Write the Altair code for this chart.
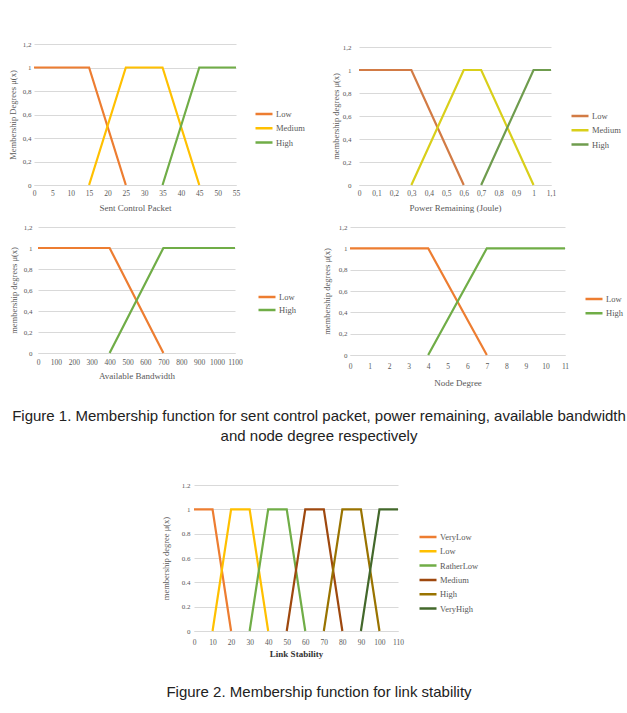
import altair as alt
import pandas as pd

# ---------------- data ----------------
y_ticks = [0, 0.2, 0.4, 0.6, 0.8, 1.0, 1.2]

# Fig 1a: Sent Control Packet
scp_ticks = [0, 5, 10, 15, 20, 25, 30, 35, 40, 45, 50, 55]
scp_names = ["Low", "Medium", "High"]
scp_low_x = [0, 15, 25]
scp_low_y = [1, 1, 0]
scp_med_x = [15, 25, 35, 45]
scp_med_y = [0, 1, 1, 0]
scp_high_x = [35, 45, 55]
scp_high_y = [0, 1, 1]

# Fig 1b: Power Remaining (Joule)
pr_ticks = [0, 0.1, 0.2, 0.3, 0.4, 0.5, 0.6, 0.7, 0.8, 0.9, 1.0, 1.1]
pr_names = ["Low", "Medium", "High"]
pr_low_x = [0, 0.3, 0.6]
pr_low_y = [1, 1, 0]
pr_med_x = [0.3, 0.6, 0.7, 1.0]
pr_med_y = [0, 1, 1, 0]
pr_high_x = [0.7, 1.0, 1.1]
pr_high_y = [0, 1, 1]

# Fig 1c: Available Bandwidth
bw_ticks = [0, 100, 200, 300, 400, 500, 600, 700, 800, 900, 1000, 1100]
bw_names = ["Low", "High"]
bw_low_x = [0, 400, 700]
bw_low_y = [1, 1, 0]
bw_high_x = [400, 700, 1100]
bw_high_y = [0, 1, 1]

# Fig 1d: Node Degree
nd_ticks = [0, 1, 2, 3, 4, 5, 6, 7, 8, 9, 10, 11]
nd_names = ["Low", "High"]
nd_low_x = [0, 4, 7]
nd_low_y = [1, 1, 0]
nd_high_x = [4, 7, 11]
nd_high_y = [0, 1, 1]

# Fig 2: Link Stability
ls_ticks = [0, 10, 20, 30, 40, 50, 60, 70, 80, 90, 100, 110]
ls_names = ["VeryLow", "Low", "RatherLow", "Medium", "High", "VeryHigh"]
ls_vlow_x = [0, 10, 20]
ls_vlow_y = [1, 1, 0]
ls_low_x = [10, 20, 30, 40]
ls_low_y = [0, 1, 1, 0]
ls_rlow_x = [30, 40, 50, 60]
ls_rlow_y = [0, 1, 1, 0]
ls_med_x = [50, 60, 70, 80]
ls_med_y = [0, 1, 1, 0]
ls_high_x = [70, 80, 90, 100]
ls_high_y = [0, 1, 1, 0]
ls_vhigh_x = [90, 100, 110]
ls_vhigh_y = [0, 1, 1]

captions = [
    "Figure 1. Membership function for sent control packet, power remaining, available bandwidth",
    "and node degree respectively",
    "Figure 2. Membership function for link stability",
]

W, H = 627, 713
SERIF = "Liberation Serif"
SANS = "Liberation Sans"
GRAY = "#595959"
GRID = "#d9d9d9"


def panel(key, series, names, colors, xticks, xtitle, ytitle, box,
          leg, row_pad, comma, ylab_pad, xlab_pad, ytitle_x, xtitle_y, bold_title=False):
    x0, y0, x1, y1 = box  # plot-area box in page pixels
    rows = []
    for name, xs, ys in series:
        for i, (xv, yv) in enumerate(zip(xs, ys)):
            rows.append({key + "_x": xv, key + "_y": yv, key + "_s": name, key + "_o": i})
    df = pd.DataFrame(rows)
    if comma:
        expr = "replace(format(datum.value, '~g'), '.', ',')"
    else:
        expr = "format(datum.value, '~g')"
    return alt.Chart(df).mark_line(strokeWidth=2.2).encode(
        x=alt.X(key + "_x:Q",
                scale=alt.Scale(domain=[xticks[0], xticks[-1]], range=[x0, x1],
                                nice=False, zero=False),
                axis=alt.Axis(orient="bottom", offset=y1 - H, values=xticks, labelExpr=expr,
                              grid=False, ticks=False, domain=True, domainColor=GRID,
                              domainWidth=1, labelFont=SERIF, labelFontSize=7.5,
                              labelColor=GRAY, labelPadding=xlab_pad, labelOverlap=False,
                              labelFlush=False, title=xtitle, titleFont=SERIF,
                              titleFontSize=9,
                              titleFontWeight="bold" if bold_title else "normal",
                              titleColor="#333333" if bold_title else GRAY,
                              titleY=xtitle_y, titleBaseline="middle")),
        y=alt.Y(key + "_y:Q",
                scale=alt.Scale(domain=[0, 1.2], range=[y1, y0], nice=False, zero=True),
                axis=alt.Axis(orient="left", offset=-x0, values=y_ticks, labelExpr=expr,
                              grid=True, gridColor=GRID, gridWidth=1, ticks=False,
                              domain=False, labelFont=SERIF, labelFontSize=7,
                              labelColor=GRAY, labelPadding=ylab_pad, labelOverlap=False,
                              labelFlush=False, title=ytitle, titleFont=SERIF,
                              titleFontSize=8.5, titleFontWeight="normal", titleColor=GRAY,
                              titleX=ytitle_x, titleAngle=270, titleBaseline="middle")),
        color=alt.Color(key + "_s:N", title=None,
                        scale=alt.Scale(domain=names, range=colors),
                        legend=alt.Legend(orient="none", legendX=leg[0], legendY=leg[1],
                                          symbolType="stroke", symbolStrokeWidth=2.5,
                                          symbolSize=289, labelFont=SERIF, labelFontSize=8.5,
                                          labelColor=GRAY, rowPadding=row_pad, clipHeight=12,
                                          padding=0, labelOffset=2)),
        order=alt.Order(key + "_o:Q"),
    )


c1 = panel("scp", [("Low", scp_low_x, scp_low_y), ("Medium", scp_med_x, scp_med_y),
                   ("High", scp_high_x, scp_high_y)], scp_names,
           ["#ED7D31", "#FFC000", "#70AD47"], scp_ticks, "Sent Control Packet",
           "Membership Degrees μ(x)", (34, 44, 236, 185), (254, 108), 2.3, True, 3, 4, -22, 22)

c2 = panel("pr", [("Low", pr_low_x, pr_low_y), ("Medium", pr_med_x, pr_med_y),
                  ("High", pr_high_x, pr_high_y)], pr_names,
           ["#D27B45", "#D9CF1A", "#6F9C4E"], pr_ticks, "Power Remaining (Joule)",
           "membership degrees μ(x)", (359, 47, 551, 185), (570, 110), 2.3, True, 8, 4, -24, 22)

c3 = panel("bw", [("Low", bw_low_x, bw_low_y), ("High", bw_high_x, bw_high_y)], bw_names,
           ["#ED7D31", "#70AD47"], bw_ticks, "Available Bandwidth",
           "membership degrees μ(x)", (38, 227, 235, 353), (257, 291), 1.0, True, 6, 5, -25, 22)

c4 = panel("nd", [("Low", nd_low_x, nd_low_y), ("High", nd_high_x, nd_high_y)], nd_names,
           ["#ED7D31", "#70AD47"], nd_ticks, "Node Degree",
           "membership degrees μ(x)", (350, 227, 565, 355), (584, 293), 2.3, True, 3, 7, -24, 27)

c5 = panel("ls", [("VeryLow", ls_vlow_x, ls_vlow_y), ("Low", ls_low_x, ls_low_y),
                  ("RatherLow", ls_rlow_x, ls_rlow_y), ("Medium", ls_med_x, ls_med_y),
                  ("High", ls_high_x, ls_high_y), ("VeryHigh", ls_vhigh_x, ls_vhigh_y)],
           ls_names, ["#ED7D31", "#FFC000", "#70AD47", "#9E480E", "#997300", "#43682B"],
           ls_ticks, "Link  Stability", "membership degree μ(x)", (194, 485, 398, 631),
           (418, 531), 2.3, False, 4, 7, -29, 22, bold_title=True)


def text_layer(txt, x, y):
    return alt.Chart(pd.DataFrame({"t": [txt]})).mark_text(
        font=SANS, fontSize=15, color="#222222", align="center", baseline="middle"
    ).encode(text="t:N", x=alt.value(x), y=alt.value(y))


t1 = text_layer(captions[0], 319, 416)
t2 = text_layer(captions[1], 319, 436)
t3 = text_layer(captions[2], 319, 692)

chart = alt.layer(c1, c2, c3, c4, c5, t1, t2, t3).resolve_scale(
    x="independent", y="independent", color="independent"
).properties(
    width=W, height=H, padding=0, background="white",
    autosize=alt.AutoSizeParams(type="none")
).configure_view(strokeWidth=0)

chart.save("out.html", embed_options={"renderer": "svg", "actions": False})
